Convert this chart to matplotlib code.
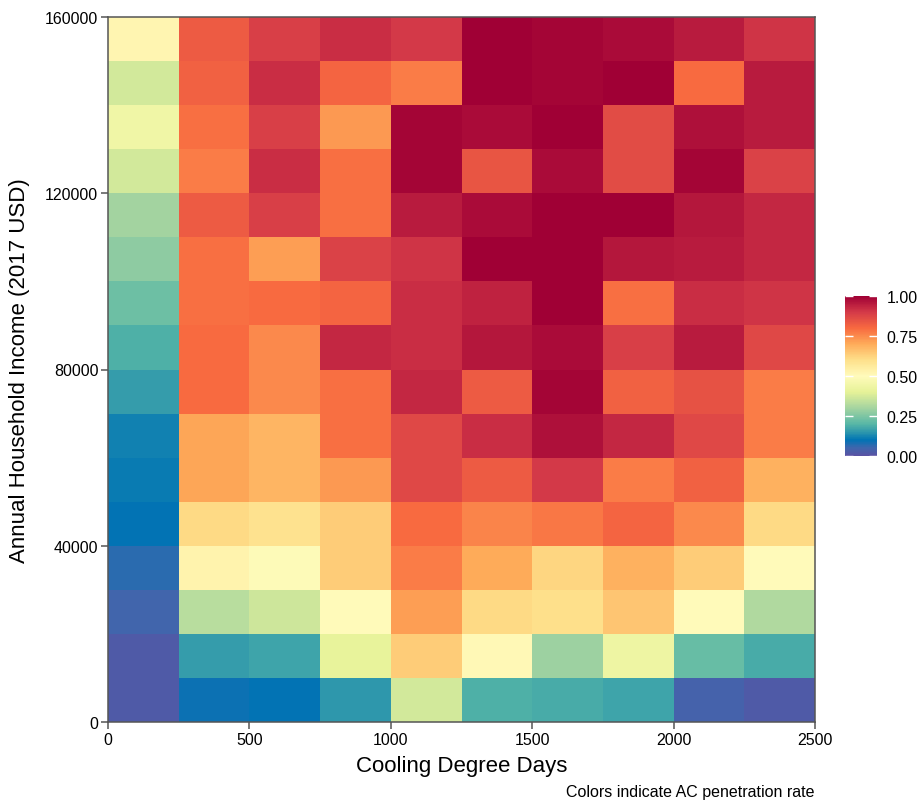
import numpy as np
import matplotlib
matplotlib.use('Agg')
import matplotlib.pyplot as plt
from matplotlib.colors import LinearSegmentedColormap

plt.rcParams['font.family'] = ['Liberation Sans', 'DejaVu Sans']

# Bornes des classes (degrés-jours de climatisation, revenu)
cdd_edges = [0, 250, 500, 750, 1000, 1250, 1500, 1750, 2000, 2250, 2500]
income_edges = [0, 10000, 20000, 30000, 40000, 50000, 60000, 70000, 80000,
                90000, 100000, 110000, 120000, 130000, 140000, 150000, 160000]

# Taux de pénétration de la climatisation, une liste par colonne de CDD,
# du revenu le plus bas (0-10k) au plus haut (150k-160k)
cdd_0 = [0.02, 0.02, 0.05, 0.07, 0.10, 0.11, 0.12, 0.16, 0.19, 0.23, 0.27, 0.30, 0.37, 0.44, 0.37, 0.52]
cdd_250 = [0.09, 0.16, 0.33, 0.53, 0.61, 0.71, 0.71, 0.80, 0.80, 0.79, 0.79, 0.83, 0.77, 0.79, 0.82, 0.83]
cdd_500 = [0.10, 0.17, 0.36, 0.49, 0.59, 0.68, 0.68, 0.75, 0.75, 0.80, 0.72, 0.89, 0.92, 0.89, 0.92, 0.89]
cdd_750 = [0.15, 0.41, 0.50, 0.64, 0.64, 0.73, 0.79, 0.79, 0.93, 0.81, 0.88, 0.79, 0.79, 0.73, 0.81, 0.92]
cdd_1000 = [0.37, 0.64, 0.72, 0.77, 0.80, 0.87, 0.87, 0.93, 0.92, 0.92, 0.91, 0.95, 0.99, 0.99, 0.77, 0.90]
cdd_1250 = [0.19, 0.51, 0.61, 0.70, 0.76, 0.83, 0.92, 0.83, 0.96, 0.94, 1.00, 0.98, 0.84, 0.98, 1.00, 1.00]
cdd_1500 = [0.18, 0.29, 0.60, 0.62, 0.78, 0.90, 0.97, 0.99, 0.98, 1.00, 1.00, 1.00, 0.98, 1.00, 0.99, 0.99]
cdd_1750 = [0.17, 0.43, 0.65, 0.69, 0.81, 0.77, 0.93, 0.82, 0.89, 0.79, 0.96, 1.00, 0.86, 0.86, 1.00, 0.98]
cdd_2000 = [0.04, 0.22, 0.50, 0.64, 0.75, 0.82, 0.87, 0.85, 0.95, 0.92, 0.95, 0.96, 0.99, 0.97, 0.80, 0.95]
cdd_2250 = [0.02, 0.18, 0.32, 0.50, 0.61, 0.69, 0.77, 0.77, 0.87, 0.91, 0.93, 0.93, 0.88, 0.95, 0.95, 0.91]

penetration = np.array([cdd_0, cdd_250, cdd_500, cdd_750, cdd_1000,
                        cdd_1250, cdd_1500, cdd_1750, cdd_2000, cdd_2250]).T

palette = [(0.00, '#5A52A3'), (0.05, '#3F66AD'), (0.10, '#0074B4'),
           (0.15, '#2F98AC'), (0.20, '#58B7A6'), (0.30, '#A5D4A0'),
           (0.40, '#E6F298'), (0.50, '#FFFBBB'), (0.60, '#FEE08B'),
           (0.70, '#FEAC5A'), (0.80, '#F86A40'), (0.90, '#D43A48'),
           (1.00, '#A00035')]
cmap = LinearSegmentedColormap.from_list('spectral_ref', palette)

fig = plt.figure(figsize=(9.22, 8.03), dpi=100)
ax = fig.add_axes([108/922, 80/803, 707/922, 705/803])

mesh = ax.pcolormesh(cdd_edges, income_edges, penetration,
                     cmap=cmap, vmin=0, vmax=1, shading='flat')

ax.set_xlim(0, 2500)
ax.set_ylim(0, 160000)
ax.set_xticks([0, 500, 1000, 1500, 2000, 2500])
ax.set_yticks([0, 40000, 80000, 120000, 160000])
ax.set_xticklabels(['0', '500', '1000', '1500', '2000', '2500'])
ax.set_yticklabels(['0', '40000', '80000', '120000', '160000'])
ax.tick_params(length=5, width=1.1, color='#555555', labelsize=11.5,
               labelcolor='black', pad=2)
for s in ax.spines.values():
    s.set_color('#555555')
    s.set_linewidth(1.1)

ax.set_xlabel('Cooling Degree Days', fontsize=16, labelpad=6)
ax.set_ylabel('Annual Household Income (2017 USD)', fontsize=16, labelpad=11)

# Barre de couleurs
cax = fig.add_axes([845/922, 346/803, 32/922, 160/803])
cbar = fig.colorbar(mesh, cax=cax, ticks=[0, 0.25, 0.5, 0.75, 1.0])
cbar.outline.set_visible(False)
cbar.ax.set_yticklabels(['0.00', '0.25', '0.50', '0.75', '1.00'])
cbar.ax.yaxis.set_ticks_position('both')
cbar.ax.tick_params(direction='in', length=6, width=1, color='white',
                    labelsize=11.5, pad=7)
cbar.ax.tick_params(which='both', right=True, left=True, labelleft=False,
                    labelright=True)

fig.text(815/922, 10/803, 'Colors indicate AC penetration rate',
         ha='right', va='center', fontsize=11.5)

fig.savefig('out.png', dpi=100)
